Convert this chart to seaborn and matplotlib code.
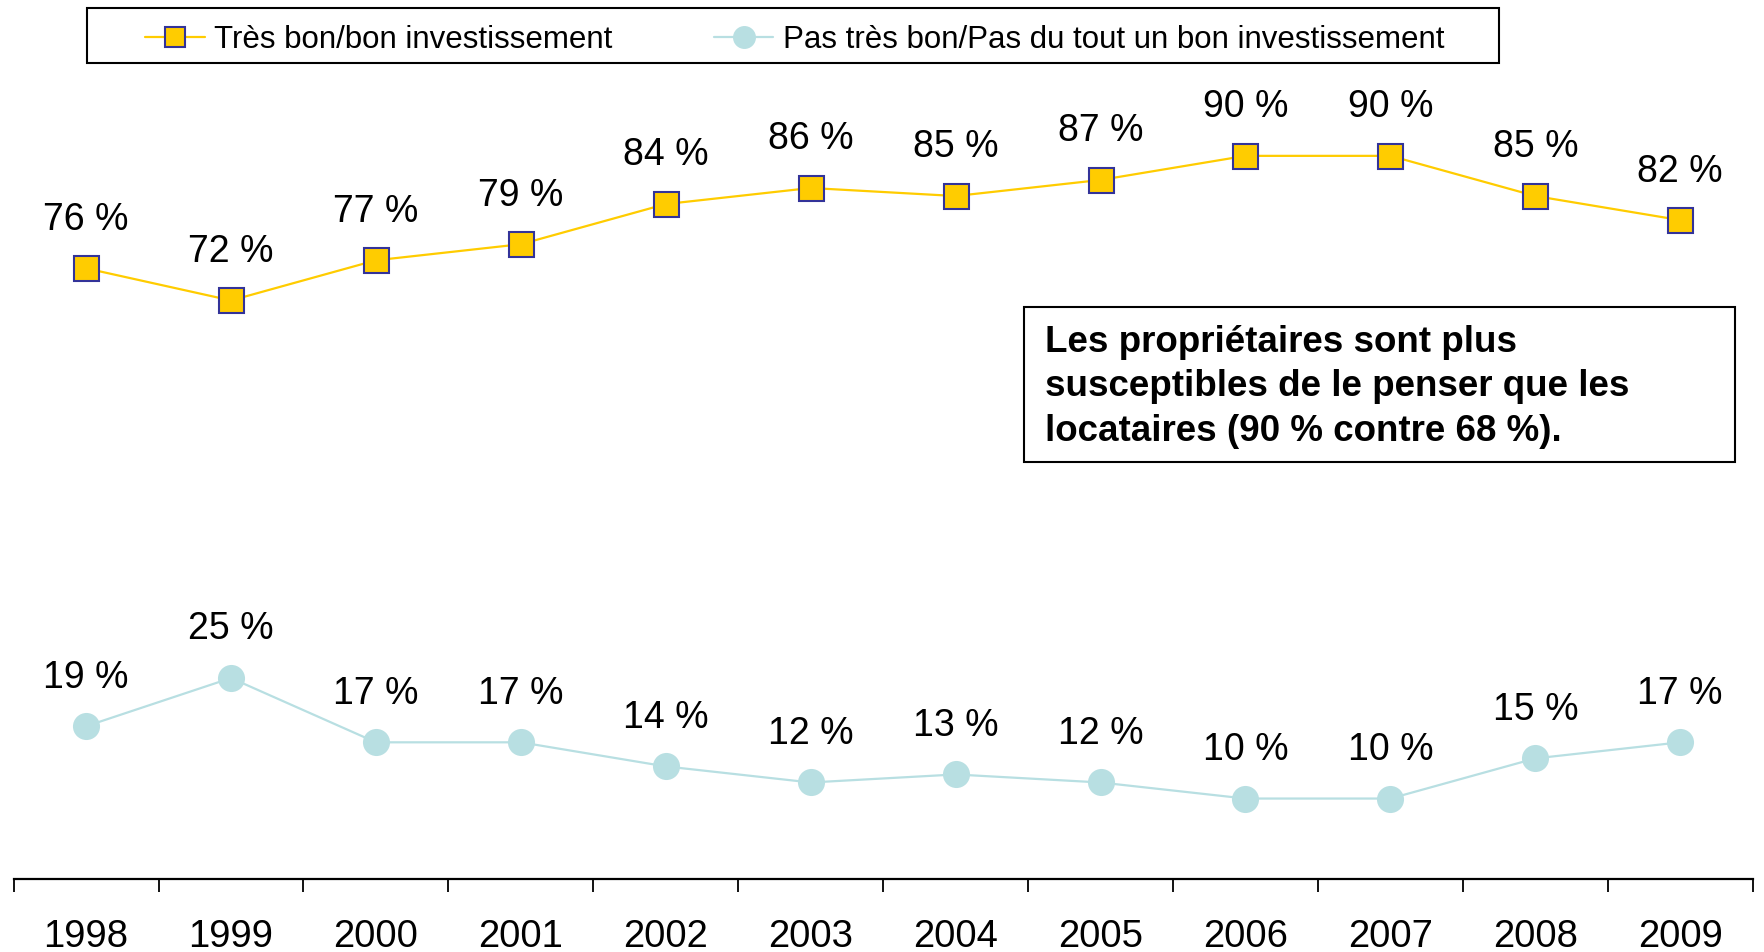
import pandas as pd
import matplotlib.pyplot as plt
import seaborn as sns
from matplotlib.patches import Rectangle
from matplotlib.lines import Line2D

sns.set_style('white')
# police (après set_style)
plt.rcParams['font.family'] = ['Liberation Sans', 'DejaVu Sans']
plt.rcParams['text.color'] = 'black'
plt.rcParams['xtick.color'] = 'black'
plt.rcParams['xtick.labelcolor'] = 'black'

# données
annees = ['1998', '1999', '2000', '2001', '2002', '2003',
          '2004', '2005', '2006', '2007', '2008', '2009']
bon_invest = [76, 72, 77, 79, 84, 86, 85, 87, 90, 90, 85, 82]
pas_bon_invest = [19, 25, 17, 17, 14, 12, 13, 12, 10, 10, 15, 17]
legende = ['Très bon/bon investissement',
           'Pas très bon/Pas du tout un bon investissement']
note = ('Les propriétaires sont plus\n'
        'susceptibles de le penser que les\n'
        'locataires (90 % contre 68 %).')

df = pd.DataFrame({'Annee': range(len(annees)),
                   'Bon': bon_invest,
                   'PasBon': pas_bon_invest})

gold = '#FFCC00'
navy = '#333399'
bleu = '#B8DFE2'

fig = plt.figure(figsize=(17.64, 9.52), dpi=100)
ax = fig.add_axes([0.0077, 0.0768, 0.9859, 0.9232])

sns.lineplot(data=df, x='Annee', y='Bon', ax=ax, color=gold, lw=1.6,
             marker='s', markersize=18, markerfacecolor=gold,
             markeredgecolor=navy, markeredgewidth=1.5)
sns.lineplot(data=df, x='Annee', y='PasBon', ax=ax, color=bleu, lw=1.6,
             marker='o', markersize=19.5, markerfacecolor=bleu,
             markeredgecolor=bleu, markeredgewidth=0)

# étiquettes de valeurs
for i in range(len(annees)):
    ax.annotate(f'{bon_invest[i]} %', (i, bon_invest[i]), xytext=(0, 35),
                textcoords='offset points', ha='center', va='center', fontsize=27)
    ax.annotate(f'{pas_bon_invest[i]} %', (i, pas_bon_invest[i]), xytext=(0, 35),
                textcoords='offset points', ha='center', va='center', fontsize=27)

ax.set_xlim(-0.5, len(annees) - 0.5)
ax.set_ylim(0, 109.4)
ax.set_xlabel('')
ax.set_ylabel('')
ax.set_yticks([])

# graduations entre les années, étiquettes au centre
ax.set_xticks([x - 0.5 for x in range(len(annees) + 1)])
ax.set_xticklabels([])
ax.set_xticks(range(len(annees)), minor=True)
ax.set_xticklabels(annees, minor=True, fontsize=27.5)
ax.tick_params(axis='x', which='major', bottom=True, direction='out', length=9.5,
               width=1.3, color='black')
ax.tick_params(axis='x', which='minor', bottom=True, length=0, pad=29)

for s in ['top', 'left', 'right']:
    ax.spines[s].set_visible(False)
ax.spines['bottom'].set_color('black')
ax.spines['bottom'].set_linewidth(1.6)

# légende
handles = [Line2D([], [], color=gold, lw=1.6, marker='s', markersize=15,
                  markerfacecolor=gold, markeredgecolor=navy, markeredgewidth=1.5),
           Line2D([], [], color=bleu, lw=1.6, marker='o', markersize=15.5,
                  markerfacecolor=bleu, markeredgecolor=bleu)]
fig.legend(handles, legende, loc='center left', bbox_to_anchor=(0.0735, 0.958),
           ncol=2, frameon=False, fontsize=22.5, borderpad=0, handlelength=1.9,
           handletextpad=0.3, columnspacing=3.25)
fig.patches.append(Rectangle((0.0493, 0.9338), 0.8005, 0.0578, transform=fig.transFigure,
                             fill=False, ec='black', lw=1.5))

# encadré
fig.patches.append(Rectangle((0.5805, 0.5147), 0.403, 0.1628, transform=fig.transFigure,
                             fill=False, ec='black', lw=1.5))
fig.text(0.5924, 0.5935, note, ha='left', va='center', fontsize=26.5,
         fontweight='bold', linespacing=1.34)

fig.savefig('out.png', dpi=100)
